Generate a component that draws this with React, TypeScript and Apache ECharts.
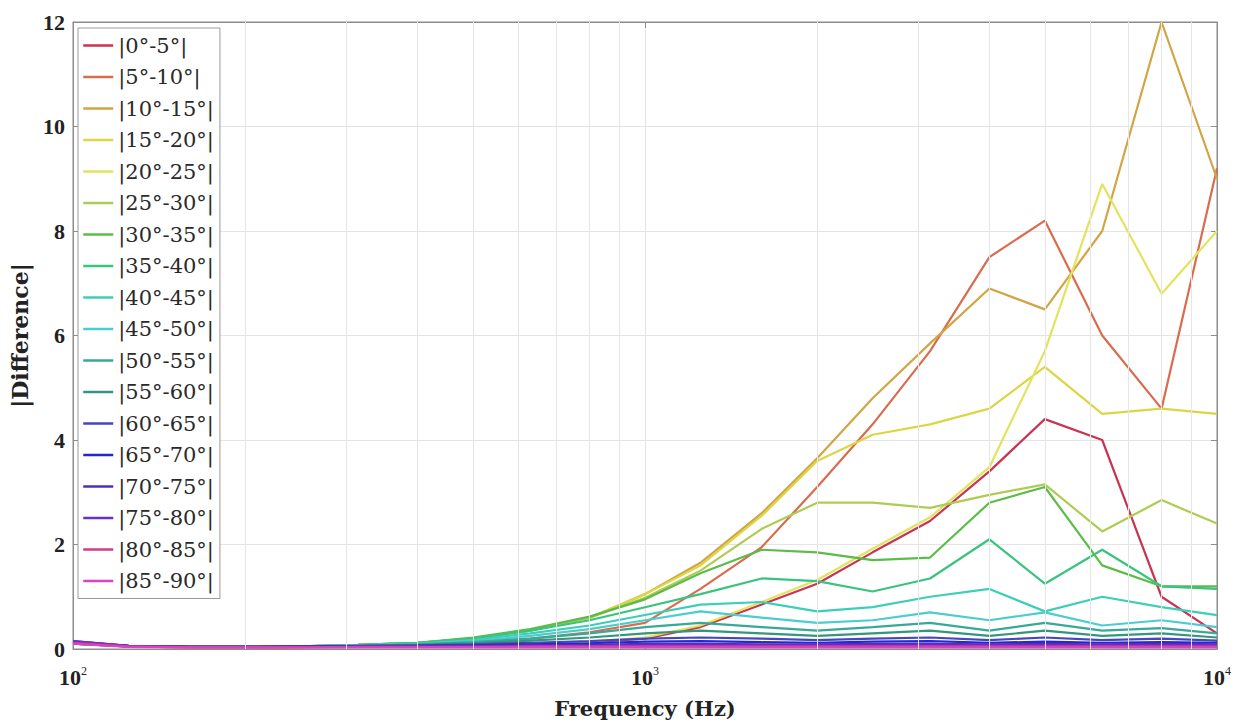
import React, { useEffect, useRef } from "react";
import * as echarts from "echarts";

const freqs = [100, 125, 160, 200, 250, 315, 400, 500, 630, 800, 1000, 1250, 1600, 2000, 2500, 3150, 4000, 5000, 6300, 8000, 10000];

const names = [
  "|0°-5°|", "|5°-10°|", "|10°-15°|", "|15°-20°|", "|20°-25°|", "|25°-30°|",
  "|30°-35°|", "|35°-40°|", "|40°-45°|", "|45°-50°|", "|50°-55°|", "|55°-60°|",
  "|60°-65°|", "|65°-70°|", "|70°-75°|", "|75°-80°|", "|80°-85°|", "|85°-90°|",
];

const colors = [
  "#c83452", "#d86c4c", "#d2a444", "#dcd644", "#e2e45e", "#aecc52",
  "#5cbc48", "#38c47e", "#3ccfb8", "#4accd0", "#38a898", "#34967a",
  "#4646be", "#2626d0", "#4a30c2", "#6632cc", "#d03c88", "#dc42c4",
];

const s0 = [0.10, 0.05, 0.03, 0.03, 0.04, 0.05, 0.06, 0.08, 0.10, 0.13, 0.20, 0.42, 0.85, 1.25, 1.85, 2.45, 3.40, 4.40, 4.00, 1.00, 0.30];
const s1 = [0.10, 0.05, 0.03, 0.03, 0.04, 0.06, 0.08, 0.12, 0.20, 0.32, 0.50, 1.15, 1.95, 3.10, 4.30, 5.70, 7.50, 8.20, 6.00, 4.60, 9.20];
const s2 = [0.12, 0.06, 0.04, 0.04, 0.05, 0.08, 0.12, 0.20, 0.35, 0.60, 1.05, 1.65, 2.60, 3.65, 4.80, 5.85, 6.90, 6.50, 8.00, 12.0, 9.00];
const s3 = [0.12, 0.06, 0.04, 0.04, 0.05, 0.08, 0.12, 0.20, 0.35, 0.60, 1.05, 1.60, 2.55, 3.60, 4.10, 4.30, 4.60, 5.40, 4.50, 4.60, 4.50];
const s4 = [0.10, 0.05, 0.03, 0.03, 0.04, 0.05, 0.06, 0.08, 0.11, 0.14, 0.22, 0.45, 0.90, 1.32, 1.92, 2.52, 3.48, 5.70, 8.90, 6.80, 8.00];
const s5 = [0.12, 0.06, 0.04, 0.04, 0.05, 0.08, 0.12, 0.20, 0.35, 0.60, 0.98, 1.50, 2.30, 2.80, 2.80, 2.70, 2.95, 3.15, 2.25, 2.85, 2.40];
const s6 = [0.12, 0.06, 0.04, 0.04, 0.05, 0.08, 0.12, 0.22, 0.38, 0.62, 0.95, 1.45, 1.90, 1.85, 1.70, 1.75, 2.80, 3.10, 1.60, 1.20, 1.20];
const s7 = [0.12, 0.06, 0.04, 0.04, 0.05, 0.08, 0.12, 0.20, 0.35, 0.55, 0.80, 1.05, 1.35, 1.30, 1.10, 1.35, 2.10, 1.25, 1.90, 1.20, 1.15];
const s8 = [0.10, 0.05, 0.04, 0.04, 0.05, 0.07, 0.10, 0.17, 0.30, 0.45, 0.65, 0.85, 0.90, 0.72, 0.80, 1.00, 1.15, 0.72, 1.00, 0.80, 0.65];
const s9 = [0.10, 0.05, 0.04, 0.04, 0.05, 0.07, 0.10, 0.15, 0.25, 0.38, 0.55, 0.72, 0.60, 0.50, 0.55, 0.70, 0.55, 0.70, 0.45, 0.55, 0.42];
const s10 = [0.10, 0.05, 0.04, 0.04, 0.05, 0.06, 0.09, 0.13, 0.20, 0.30, 0.42, 0.50, 0.42, 0.35, 0.42, 0.50, 0.35, 0.50, 0.35, 0.40, 0.30];
const s11 = [0.10, 0.05, 0.04, 0.04, 0.05, 0.06, 0.08, 0.11, 0.16, 0.22, 0.30, 0.35, 0.30, 0.25, 0.30, 0.35, 0.25, 0.35, 0.25, 0.30, 0.22];
const s12 = [0.12, 0.05, 0.04, 0.04, 0.05, 0.06, 0.07, 0.09, 0.12, 0.15, 0.20, 0.22, 0.20, 0.17, 0.20, 0.22, 0.17, 0.22, 0.17, 0.20, 0.16];
const s13 = [0.14, 0.06, 0.04, 0.04, 0.05, 0.05, 0.06, 0.07, 0.09, 0.11, 0.14, 0.15, 0.13, 0.12, 0.14, 0.15, 0.12, 0.14, 0.12, 0.13, 0.12];
const s14 = [0.15, 0.06, 0.04, 0.04, 0.04, 0.05, 0.05, 0.06, 0.07, 0.08, 0.10, 0.10, 0.09, 0.09, 0.10, 0.10, 0.09, 0.10, 0.09, 0.10, 0.09];
const s15 = [0.15, 0.06, 0.04, 0.04, 0.04, 0.04, 0.05, 0.05, 0.06, 0.06, 0.07, 0.07, 0.07, 0.07, 0.07, 0.07, 0.07, 0.07, 0.07, 0.07, 0.07];
const s16 = [0.12, 0.05, 0.03, 0.03, 0.03, 0.04, 0.04, 0.04, 0.05, 0.05, 0.05, 0.05, 0.05, 0.05, 0.05, 0.05, 0.05, 0.05, 0.05, 0.05, 0.05];
const s17 = [0.10, 0.04, 0.03, 0.03, 0.03, 0.03, 0.03, 0.03, 0.03, 0.03, 0.03, 0.03, 0.03, 0.03, 0.03, 0.03, 0.03, 0.03, 0.03, 0.03, 0.03];

const seriesValues = [s0, s1, s2, s3, s4, s5, s6, s7, s8, s9, s10, s11, s12, s13, s14, s15, s16, s17];

const minorGrid = [200, 300, 400, 500, 600, 700, 800, 900, 2000, 3000, 4000, 5000, 6000, 7000, 8000, 9000];

const SERIF = "'DejaVu Serif', 'Liberation Serif', serif";
const TIMES = "'Liberation Serif', 'DejaVu Serif', serif";

export default function App() {
  const ref = useRef<HTMLDivElement>(null);
  useEffect(() => {
    if (!ref.current) return;
    const chart = echarts.init(ref.current, undefined, { renderer: "svg" });
    const lineSeries = seriesValues.map((vals, i) => ({
      name: names[i],
      type: "line",
      symbol: "none",
      smooth: false,
      z: 3,
      xAxisIndex: 0,
      yAxisIndex: 0,
      data: freqs.map((f, j) => [f, vals[j]]),
      lineStyle: { width: 2.2, color: colors[i] },
      itemStyle: { color: colors[i] },
    }));
    const hiddenLabel = { show: false };
    chart.setOption({
      animation: false,
      backgroundColor: "#ffffff",
      grid: {
        left: 73,
        right: 24,
        top: 22,
        bottom: 64,
        show: true,
        borderColor: "#8c8c8c",
        borderWidth: 1,
        backgroundColor: "transparent",
      },
      legend: {
        orient: "vertical",
        left: 78,
        top: 28,
        data: names,
        itemWidth: 30,
        itemHeight: 14,
        itemGap: 10.5,
        padding: [7, 6, 7, 4],
        backgroundColor: "#ffffff",
        borderColor: "#9a9a9a",
        borderWidth: 1,
        itemStyle: { opacity: 0 },
        lineStyle: { width: 2.5 },
        textStyle: { fontFamily: SERIF, fontSize: 21, color: "#2a2a2a" },
      },
      xAxis: [
        {
          type: "log",
          logBase: 10,
          min: 100,
          max: 10000,
          name: "Frequency (Hz)",
          nameLocation: "middle",
          nameGap: 49,
          nameTextStyle: { fontFamily: SERIF, fontSize: 21, fontWeight: "bold", color: "#222" },
          axisLine: { show: true, onZero: false, lineStyle: { color: "#8c8c8c" } },
          axisTick: { show: true, inside: true, length: 6, lineStyle: { color: "#8c8c8c" } },
          splitLine: { show: true, lineStyle: { color: "#e4e4e4", width: 1 } },
          axisLabel: {
            margin: 16,
            formatter: (v: number) => {
              const e = Math.round(Math.log10(v));
              return `{b|10}{s|${e}}`;
            },
            rich: {
              b: { fontFamily: TIMES, fontSize: 22, color: "#222", fontWeight: "bold" },
              s: { fontFamily: TIMES, fontSize: 12, color: "#222", verticalAlign: "top", lineHeight: 24 },
            },
          },
        },
        {
          type: "log",
          logBase: 10,
          min: 100,
          max: 10000,
          position: "top",
          axisLine: { show: true, onZero: false, lineStyle: { color: "#8c8c8c" } },
          axisTick: { show: true, inside: true, length: 6, lineStyle: { color: "#8c8c8c" } },
          splitLine: { show: false },
          axisLabel: hiddenLabel,
        },
      ],
      yAxis: [
        {
          type: "value",
          min: 0,
          max: 12,
          interval: 2,
          name: "|Difference|",
          nameLocation: "middle",
          nameGap: 42,
          nameTextStyle: { fontFamily: SERIF, fontSize: 22, fontWeight: "bold", color: "#222" },
          axisLine: { show: true, lineStyle: { color: "#8c8c8c" } },
          axisTick: { show: true, inside: true, length: 6, lineStyle: { color: "#8c8c8c" } },
          splitLine: { show: true, lineStyle: { color: "#e4e4e4", width: 1 } },
          axisLabel: { fontFamily: TIMES, fontSize: 22, color: "#222", margin: 8, fontWeight: "bold" },
        },
        {
          type: "value",
          min: 0,
          max: 12,
          interval: 2,
          position: "right",
          axisLine: { show: true, lineStyle: { color: "#8c8c8c" } },
          axisTick: { show: true, inside: true, length: 6, lineStyle: { color: "#8c8c8c" } },
          splitLine: { show: false },
          axisLabel: hiddenLabel,
        },
      ],
      series: [
        {
          name: "grid-helper",
          type: "line",
          data: [],
          z: 1,
          silent: true,
          markLine: {
            silent: true,
            symbol: "none",
            label: { show: false },
            lineStyle: { color: "#e6e6e6", width: 1, type: "solid" },
            data: minorGrid.map((v) => ({ xAxis: v })),
          },
        },
        ...lineSeries,
      ],
    });
    return () => chart.dispose();
  }, []);
  return (
    <div
      ref={ref}
      style={{ position: "fixed", left: 0, top: 0, width: 1241, height: 724, background: "#fff" }}
    />
  );
}
